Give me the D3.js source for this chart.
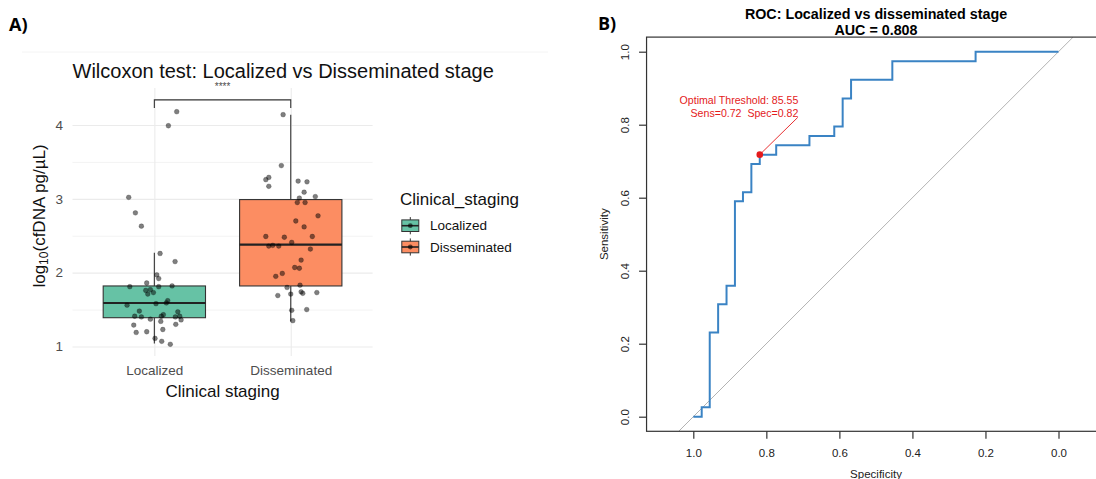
<!DOCTYPE html>
<html>
<head>
<meta charset="utf-8">
<script src="https://cdn.jsdelivr.net/npm/d3@7"></script>
<style>
  html, body { margin: 0; padding: 0; background: #fff; }
  svg { display: block; font-family: "Liberation Sans", Arial, sans-serif; }
</style>
</head>
<body>
<div id="chart"></div>
<script>
// ---- Panel A data: log10(cfDNA) per stage ----
const categories = ["Localized", "Disseminated"];
const groupColors = ["#66c2a5", "#fc8d62"];
const localizedValues = [4.18, 3.99, 3.02, 2.81, 2.63, 2.26, 2.15, 1.97, 1.92, 1.86, 1.81, 1.81, 1.82, 1.76, 1.77, 1.73, 1.71, 1.56, 1.58, 1.59, 1.62, 1.48, 1.47, 1.41, 1.40, 1.41, 1.43, 1.41, 1.40, 1.36, 1.37, 1.34, 1.29, 1.30, 1.23, 1.19, 1.20, 1.11, 1.07, 1.03];
const localizedJitter = [0.164, 0.103, -0.188, -0.139, -0.095, 0.042, 0.152, 0.018, 0.032, -0.056, -0.180, 0.032, 0.130, -0.063, -0.029, -0.007, -0.048, -0.200, 0.012, 0.088, 0.098, -0.110, 0.172, -0.144, -0.095, 0.051, 0.066, 0.186, 0.154, 0.196, -0.029, 0.047, -0.151, 0.157, 0.062, -0.133, -0.056, 0.005, 0.054, 0.117];
const disseminatedValues = [4.14, 3.45, 3.29, 3.26, 3.17, 3.24, 3.23, 3.09, 3.01, 3.03, 2.95, 2.95, 2.77, 2.70, 2.62, 2.49, 2.48, 2.49, 2.41, 2.36, 2.37, 2.36, 2.32, 2.17, 2.07, 2.06, 1.99, 1.95, 1.83, 1.80, 1.71, 1.69, 1.74, 1.72, 1.73, 1.49, 1.50, 1.35];
const disseminatedJitter = [-0.056, -0.069, -0.161, -0.183, -0.161, 0.054, 0.119, 0.098, 0.063, 0.180, 0.048, 0.105, 0.200, 0.037, 0.098, -0.183, -0.047, 0.158, 0.007, -0.161, -0.132, -0.088, 0.144, 0.076, 0.029, 0.063, -0.062, -0.110, 0.068, -0.027, 0.000, -0.095, 0.076, 0.088, 0.191, 0.007, 0.117, 0.015];
// [lower whisker, Q1, median, Q3, upper whisker]
const localizedBox = [1.04, 1.39, 1.59, 1.82, 2.27];
const disseminatedBox = [1.34, 1.82, 2.38, 2.99, 4.14];
const yTicksA = [1, 2, 3, 4];
const yMinorA = [1.5, 2.5, 3.5];
const bracketTop = 4.34, bracketFoot = 4.23;
const signifLabel = "****";

// ---- Panel B data: ROC curve corners (specificity, sensitivity) ----
const rocSpecificity = [1, 0.977, 0.955, 0.932, 0.909, 0.886, 0.864, 0.841, 0.818, 0.773, 0.682, 0.614, 0.591, 0.568, 0.455, 0.227, 0];
const rocSensitivity = [0, 0.026, 0.231, 0.308, 0.359, 0.590, 0.615, 0.692, 0.718, 0.744, 0.769, 0.795, 0.872, 0.923, 0.974, 1, 1];
const rocTicks = [0, 0.2, 0.4, 0.6, 0.8, 1.0];
const aucValue = 0.808;
const optimalThreshold = 85.55;
const optimalSpec = 0.818, optimalSens = 0.718;
const labelSpec = 0.714, labelSens = 0.82;

const W = 1096, H = 479;
const svg = d3.select("#chart").append("svg")
    .attr("width", W)
    .attr("height", H)
    .attr("viewBox", `0 0 ${W} ${H}`);

svg.append("rect").attr("width", W).attr("height", H).attr("fill", "#fff");

drawWilcoxonPanel(svg.append("g"));
drawRocPanel(svg.append("g"));

function drawWilcoxonPanel(g) {
    const panel = { left: 72.5, right: 372.6, top: 88, bottom: 356 };
    const x = d3.scalePoint().domain(categories).range([panel.left, panel.right]).padding(0.6);
    const y = d3.scaleLinear().domain([1, 4]).range([346.5, 125]);
    const grid = "#ebebeb";

    // faint edge of the exported ggplot image
    g.append("line")
        .attr("x1", 22).attr("x2", 548).attr("y1", 52).attr("y2", 52)
        .attr("stroke", "#f4f4f4");

    g.append("text")
        .attr("x", 9).attr("y", 31)
        .attr("font-family", "'Open Sans', sans-serif")
        .attr("font-weight", 700).attr("font-size", 18)
        .text("A)");

    // grid
    g.append("g")
        .attr("transform", `translate(${panel.left},0)`)
        .call(d3.axisLeft(y).tickValues(yMinorA).tickSize(-(panel.right - panel.left)).tickFormat(""))
        .call(s => s.select(".domain").remove())
        .call(s => s.selectAll("line").attr("stroke", grid).attr("stroke-width", 0.6));
    g.append("g")
        .attr("transform", `translate(${panel.left},0)`)
        .call(d3.axisLeft(y).tickValues(yTicksA).tickSize(-(panel.right - panel.left)).tickFormat(""))
        .call(s => s.select(".domain").remove())
        .call(s => s.selectAll("line").attr("stroke", grid).attr("stroke-width", 1.1));
    g.append("g")
        .attr("transform", `translate(0,${panel.bottom})`)
        .call(d3.axisBottom(x).tickSize(-(panel.bottom - panel.top)).tickFormat(""))
        .call(s => s.select(".domain").remove())
        .call(s => s.selectAll("line").attr("stroke", grid).attr("stroke-width", 1.1));

    // axis labels
    g.append("g")
        .attr("transform", `translate(${panel.left},0)`)
        .call(d3.axisLeft(y).tickValues(yTicksA).tickSize(0).tickPadding(9.5).tickFormat(d3.format("d")))
        .call(s => s.select(".domain").remove())
        .call(s => s.selectAll("text").attr("fill", "#4d4d4d").attr("font-size", 13.5).attr("font-family", "'Liberation Sans', Arial, sans-serif"));
    g.append("g")
        .attr("transform", `translate(0,${panel.bottom})`)
        .call(d3.axisBottom(x).tickSize(0).tickPadding(9.4))
        .call(s => s.select(".domain").remove())
        .call(s => s.selectAll("text").attr("fill", "#4d4d4d").attr("font-size", 13.5).attr("font-family", "'Liberation Sans', Arial, sans-serif"));

    // boxplots
    const boxW = x.step() * 0.75;
    const boxes = [localizedBox, disseminatedBox];
    categories.forEach((cat, i) => {
        const [lo, q1, med, q3, hi] = boxes[i];
        const cx = x(cat);
        const bg = g.append("g");
        bg.append("line").attr("x1", cx).attr("x2", cx).attr("y1", y(lo)).attr("y2", y(q1))
            .attr("stroke", "#333").attr("stroke-width", 1.1);
        bg.append("line").attr("x1", cx).attr("x2", cx).attr("y1", y(q3)).attr("y2", y(hi))
            .attr("stroke", "#333").attr("stroke-width", 1.1);
        bg.append("rect")
            .attr("x", cx - boxW / 2).attr("width", boxW)
            .attr("y", y(q3)).attr("height", y(q1) - y(q3))
            .attr("fill", groupColors[i])
            .attr("stroke", "#333").attr("stroke-width", 1.1);
        bg.append("line").attr("x1", cx - boxW / 2).attr("x2", cx + boxW / 2)
            .attr("y1", y(med)).attr("y2", y(med))
            .attr("stroke", "#222").attr("stroke-width", 2.1);
    });

    // jittered points
    const groups = [
        { cat: categories[0], vals: localizedValues, jit: localizedJitter },
        { cat: categories[1], vals: disseminatedValues, jit: disseminatedJitter }
    ];
    groups.forEach(grp => {
        g.append("g").selectAll("circle")
            .data(grp.vals)
            .join("circle")
            .attr("cx", (d, i) => x(grp.cat) + grp.jit[i] * x.step())
            .attr("cy", d => y(d))
            .attr("r", 2.4)
            .attr("fill", "rgba(0,0,0,0.5)")
            .attr("stroke", "rgba(0,0,0,0.35)")
            .attr("stroke-width", 0.6);
    });

    // significance bracket
    const x0 = x(categories[0]), x1 = x(categories[1]);
    g.append("path")
        .attr("d", `M${x0},${y(bracketFoot)}V${y(bracketTop)}H${x1}V${y(bracketFoot)}`)
        .attr("fill", "none").attr("stroke", "#333").attr("stroke-width", 1.1);
    g.append("text")
        .attr("x", (x0 + x1) / 2).attr("y", y(bracketTop) - 9.5)
        .attr("text-anchor", "middle").attr("font-size", 10).attr("fill", "#4d4d4d")
        .text(signifLabel);

    // titles
    g.append("text")
        .attr("x", panel.left).attr("y", 78)
        .attr("font-size", 20).attr("fill", "#111")
        .text("Wilcoxon test: Localized vs Disseminated stage");
    g.append("text")
        .attr("x", (panel.left + panel.right) / 2).attr("y", 396.7)
        .attr("text-anchor", "middle").attr("font-size", 17).attr("fill", "#111")
        .text("Clinical staging");
    const yt = g.append("text")
        .attr("transform", "translate(44.5,216) rotate(-90)")
        .attr("text-anchor", "middle").attr("font-size", 17).attr("fill", "#111");
    yt.append("tspan").text("log");
    yt.append("tspan").attr("font-size", 12).attr("dy", "0.3em").text("10");
    yt.append("tspan").attr("dy", "-0.21em").text("(cfDNA pg/\u00b5L)");

    // legend
    const lg = g.append("g");
    lg.append("text").attr("x", 400).attr("y", 205)
        .attr("font-size", 17).attr("fill", "#111").text("Clinical_staging");
    const keyY = [225.7, 247];
    categories.forEach((cat, i) => {
        const kx = 410.3, ky = keyY[i];
        lg.append("line").attr("x1", kx).attr("x2", kx).attr("y1", ky - 8.6).attr("y2", ky + 8.6)
            .attr("stroke", "#333").attr("stroke-width", 1);
        lg.append("rect").attr("x", kx - 8.5).attr("y", ky - 5.8).attr("width", 17).attr("height", 11.6)
            .attr("fill", groupColors[i]).attr("stroke", "#333").attr("stroke-width", 1);
        lg.append("line").attr("x1", kx - 8.5).attr("x2", kx + 8.5).attr("y1", ky).attr("y2", ky)
            .attr("stroke", "#222").attr("stroke-width", 1.6);
        lg.append("circle").attr("cx", kx).attr("cy", ky).attr("r", 2.4)
            .attr("fill", "rgba(0,0,0,0.6)");
        lg.append("text").attr("x", 430).attr("y", ky).attr("dy", "0.35em")
            .attr("font-size", 13.5).attr("fill", "#111").text(cat);
    });
}

function drawRocPanel(g) {
    const x = d3.scaleLinear().domain([1, 0]).range([693.3, 1058.5]);
    const y = d3.scaleLinear().domain([0, 1]).range([416.7, 51.7]);
    const box = { left: x(1.128), right: x(-0.128), top: y(1.04), bottom: y(-0.04) };
    const fmt = d3.format(".1f");

    g.append("text")
        .attr("x", 598).attr("y", 30)
        .attr("font-family", "'Open Sans', sans-serif")
        .attr("font-weight", 700).attr("font-size", 18)
        .text("B)");

    g.append("text")
        .attr("x", 876).attr("y", 19.3)
        .attr("text-anchor", "middle").attr("font-weight", 700).attr("font-size", 14.3)
        .text("ROC: Localized vs disseminated stage");
    g.append("text")
        .attr("x", 876).attr("y", 35.3)
        .attr("text-anchor", "middle").attr("font-weight", 700).attr("font-size", 14.3)
        .text(`AUC = ${d3.format(".3f")(aucValue)}`);

    svg.append("defs").append("clipPath").attr("id", "rocClip")
        .append("rect")
        .attr("x", box.left).attr("y", box.top)
        .attr("width", box.right - box.left).attr("height", box.bottom - box.top);

    const plot = g.append("g").attr("clip-path", "url(#rocClip)");

    // chance diagonal
    plot.append("line")
        .attr("x1", x(1.04)).attr("y1", y(-0.04))
        .attr("x2", x(-0.04)).attr("y2", y(1.04))
        .attr("stroke", "#b3b3b3").attr("stroke-width", 1);

    const line = d3.line()
        .x((d, i) => x(rocSpecificity[i]))
        .y(d => y(d))
        .curve(d3.curveStepAfter);
    plot.append("path")
        .datum(rocSensitivity)
        .attr("d", line)
        .attr("fill", "none")
        .attr("stroke", "#3a83c4")
        .attr("stroke-width", 2);

    // optimal threshold annotation
    const red = "#e41a1c";
    plot.append("line")
        .attr("x1", x(optimalSpec)).attr("y1", y(optimalSens))
        .attr("x2", x(labelSpec)).attr("y2", y(labelSens))
        .attr("stroke", red).attr("stroke-width", 0.9);
    plot.append("circle")
        .attr("cx", x(optimalSpec)).attr("cy", y(optimalSens)).attr("r", 3.3)
        .attr("fill", red);
    const f2 = d3.format(".2f");
    g.append("text")
        .attr("x", x(labelSpec) + 0.6).attr("y", y(labelSens) - 13.2)
        .attr("text-anchor", "end").attr("font-size", 10.6).attr("fill", red)
        .text(`Optimal Threshold: ${optimalThreshold}`);
    g.append("text")
        .attr("x", x(labelSpec) + 0.6).attr("y", y(labelSens) - 0.6)
        .attr("text-anchor", "end").attr("font-size", 10.6).attr("fill", red)
        .attr("xml:space", "preserve").style("white-space", "pre")
        .text(`Sens=${f2(optimalSens)}  Spec=${f2(optimalSpec)}`);

    // frame
    g.append("rect")
        .attr("x", box.left).attr("y", box.top)
        .attr("width", box.right - box.left).attr("height", box.bottom - box.top)
        .attr("fill", "none").attr("stroke", "#333").attr("stroke-width", 1.2);

    // axes
    g.append("g")
        .attr("transform", `translate(${box.left},0)`)
        .call(d3.axisLeft(y).tickValues(rocTicks).tickSize(7.5).tickFormat(fmt))
        .call(s => s.select(".domain").remove())
        .call(s => s.selectAll("line").attr("stroke", "#333").attr("stroke-width", 1.2))
        .call(s => s.selectAll("text")
            .attr("x", 0).attr("y", 629.3 - box.left).attr("dy", 0)
            .attr("transform", "rotate(-90)")
            .attr("text-anchor", "middle")
            .attr("font-size", 11.5).attr("fill", "#222").attr("font-family", "'Liberation Sans', Arial, sans-serif"));
    g.append("g")
        .attr("transform", `translate(0,${box.bottom})`)
        .call(d3.axisBottom(x).tickValues(rocTicks).tickSize(7.5).tickFormat(fmt))
        .call(s => s.select(".domain").remove())
        .call(s => s.selectAll("line").attr("stroke", "#333").attr("stroke-width", 1.2))
        .call(s => s.selectAll("text")
            .attr("y", 18).attr("dy", "0.71em")
            .attr("font-size", 11.5).attr("fill", "#222").attr("font-family", "'Liberation Sans', Arial, sans-serif"));

    g.append("text")
        .attr("x", 876).attr("y", 477.5)
        .attr("text-anchor", "middle").attr("font-size", 11.5).attr("fill", "#222")
        .text("Specificity");
    g.append("text")
        .attr("transform", `translate(607.5,${(box.top + box.bottom) / 2}) rotate(-90)`)
        .attr("text-anchor", "middle").attr("font-size", 11.5).attr("fill", "#222")
        .text("Sensitivity");
}
</script>
</body>
</html>
